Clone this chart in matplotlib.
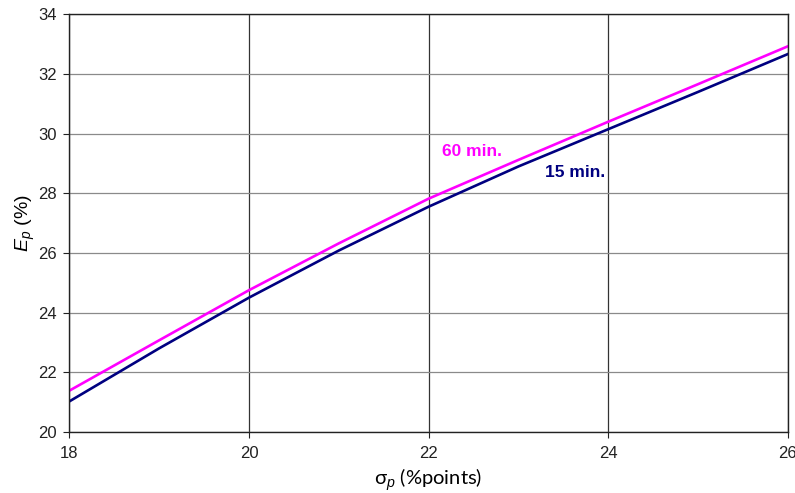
import matplotlib
matplotlib.use("Agg")
import matplotlib.pyplot as plt

plt.rcParams['font.family'] = ['Liberation Sans', 'DejaVu Sans']
plt.rcParams['mathtext.fontset'] = 'custom'
plt.rcParams['mathtext.it'] = 'Liberation Sans:italic'
plt.rcParams['mathtext.rm'] = 'Liberation Sans'

# dados
sigma_p = [18, 19, 20, 21, 22, 23, 24, 25, 26]
ep_60 = [21.38, 23.07, 24.75, 26.32, 27.82, 29.12, 30.40, 31.66, 32.93]
ep_15 = [21.02, 22.80, 24.50, 26.08, 27.55, 28.90, 30.15, 31.40, 32.67]
x_ticks = [18, 20, 22, 24, 26]
y_ticks = [20, 22, 24, 26, 28, 30, 32, 34]

fig = plt.figure(figsize=(7.95, 4.93), dpi=100)
ax = fig.add_axes([0.0874, 0.1243, 0.9034, 0.8463])

ax.plot(sigma_p, ep_15, color='#000080', lw=1.9)
ax.plot(sigma_p, ep_60, color='#FF00FF', lw=1.9)

ax.set_xlim(18, 26)
ax.set_ylim(20, 34)
ax.set_xticks(x_ticks)
ax.set_yticks(y_ticks)
# grade: verticais escuras, horizontais cinza
ax.xaxis.grid(True, color='#333333', lw=0.9)
ax.yaxis.grid(True, color='#8a8a8a', lw=0.9)
ax.set_axisbelow(True)
for s in ax.spines.values():
    s.set_color('#222222')
    s.set_linewidth(1.0)
ax.tick_params(direction='out', length=4, width=0.8, labelsize=12, colors='#222222')
ax.tick_params(axis='y', pad=5)
ax.tick_params(axis='x', pad=6)

ax.text(22.15, 29.4, '60 min.', color='#FF00FF', fontsize=12.5, fontweight='bold',
        va='center')
ax.text(23.3, 28.7, '15 min.', color='#000080', fontsize=12.5, fontweight='bold',
        va='center')

ax.set_xlabel(r'σ$_p$ (%points)', fontsize=14.5, labelpad=4,
              family=['Lato', 'DejaVu Sans'])
ax.set_ylabel(r'$E_p$ (%)', fontsize=14, labelpad=1)

fig.savefig('out.png', dpi=100)
